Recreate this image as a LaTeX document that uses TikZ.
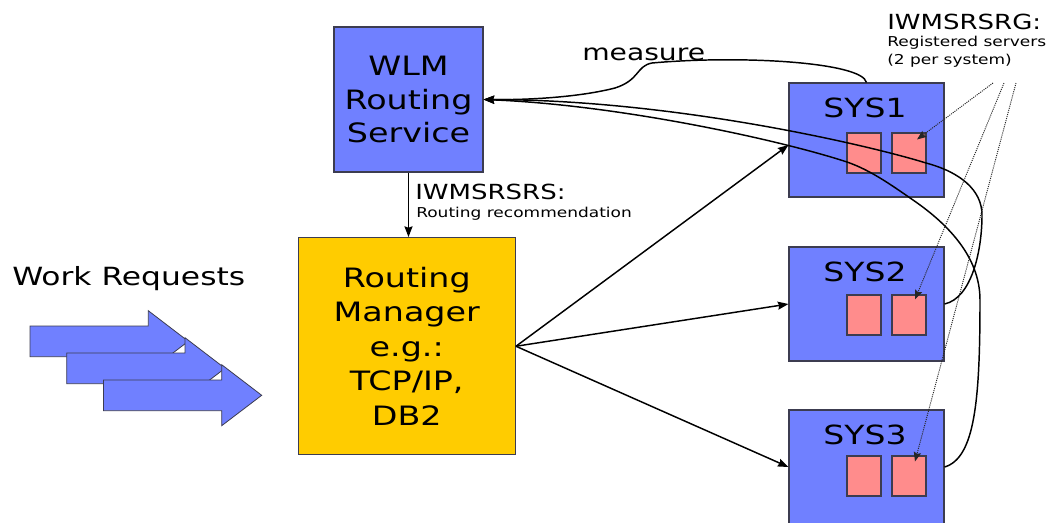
\documentclass[tikz,border=0pt]{standalone}
\usepackage{fontspec}
\setmainfont[FakeStretch=1.25]{DejaVu Sans}
\usetikzlibrary{arrows.meta,calc}
\definecolor{boxblue}{RGB}{112,128,255}
\definecolor{srvpink}{RGB}{255,140,140}
\definecolor{mgryellow}{RGB}{255,204,0}
\definecolor{edgegray}{RGB}{60,60,80}

\begin{document}
\begin{tikzpicture}[x=0.75pt,y=-0.75pt,
  box/.style={draw=edgegray, line width=0.8pt, inner sep=0pt, align=center},
  sysbox/.style={box, fill=boxblue, minimum width=116.25pt, minimum height=85.5pt},
  srv/.style={box, fill=srvpink, minimum width=25.5pt, minimum height=30pt},
  syslab/.style={anchor=base, inner sep=0pt, font=\fontsize{19.8}{22}\selectfont},
  lbl/.style={anchor=base west, inner sep=0pt},
  conn/.style={line width=1.1pt, -{Stealth[length=8pt,width=6pt,inset=1pt]}},
  dotconn/.style={line width=0.7pt, draw=black!85, dash pattern=on 0.8pt off 0.8pt,
    -{Stealth[length=7pt,width=5.5pt,inset=1pt]}},
  blockarrow/.style={fill=boxblue, draw=edgegray, line width=0.6pt}]

\useasboundingbox (0,0) rectangle (1050,522);

% incoming work: three stacked block arrows
\foreach \k in {0,1,2}
  \draw[blockarrow, shift={({36.7*\k},{27*\k})}]
    (30,326) -- (148.3,326) -- (148.3,310.7) -- (188.3,341.3)
    -- (148.3,371.7) -- (148.3,356.7) -- (30,356.7) -- cycle;
\node[lbl, font=\fontsize{18.8}{22}\selectfont] (wr) at (12,285) {Work Requests};

% main components
\node[box, fill=boxblue, minimum width=111.75pt, minimum height=108.75pt,
      font=\fontsize{20}{25}\selectfont] (wlm) at (408.5,99.5) {WLM\\Routing\\Service};
\node[box, fill=mgryellow, minimum width=163pt, minimum height=163pt,
      font=\fontsize{20}{25.8}\selectfont] (rm) at (406.75,346.25)
      {Routing\\Manager\\e.g.:\\TCP/IP,\\DB2};

% target systems with their registered servers
\node[sysbox] (sys1) at (866.5,140) {};
\node[sysbox] (sys2) at (866.5,304) {};
\node[sysbox] (sys3) at (866.5,467) {};
\node[syslab] (sys1lab) at (865,117) {SYS1};
\node[syslab] (sys2lab) at (865,281) {SYS2};
\node[syslab] (sys3lab) at (865,444) {SYS3};
\node[srv] (s1a) at (864,153) {};
\node[srv] (s1b) at (909,153) {};
\node[srv] (s2a) at (864,315) {};
\node[srv] (s2b) at (909,315) {};
\node[srv] (s3a) at (864,476) {};
\node[srv] (s3b) at (909,476) {};

% labels
\node[lbl, font=\fontsize{16.9}{20}\selectfont] (meas) at (582,60.7) {measure};
\node[lbl, font=\fontsize{15.6}{18}\selectfont] (rsrs) at (415,199.3) {IWMSRSRS:};
\node[lbl, font=\fontsize{10.2}{12}\selectfont] (rsrsd) at (416,217) {Routing recommendation};
\node[lbl, font=\fontsize{15.6}{18}\selectfont] (rsrg) at (887,29.3) {IWMSRSRG:};
\node[lbl, font=\fontsize{10.2}{12}\selectfont] (rsrgd) at (887,46.7) {Registered servers};
\node[lbl, font=\fontsize{10.2}{12}\selectfont] (rsrgd2) at (887,64) {(2 per system)};

% routing recommendation and distribution
\draw[conn] (wlm.south) -- (wlm.south |- rm.north);
\draw[conn] (rm.east) -- ([yshift=-3.75pt]sys1.west);
\draw[conn] (rm.east) -- (sys2.west);
\draw[conn] (rm.east) -- (sys3.west);

% measurement feedback to WLM
\draw[conn] (sys1.north) .. controls (862,62) and (740,55) .. (652,63)
  .. controls (636,66) and (640,80) .. (615,88)
  .. controls (580,97) and (530,100) .. (wlm.east);
\draw[conn] (sys2.east) .. controls (972,298) and (982,250) .. (982,215)
  .. controls (982,190) and (960,172) .. (926,163)
  .. controls (875,147) and (680,100) .. (wlm.east);
\draw[conn] (sys3.east) .. controls (975,458) and (980,400) .. (980,300)
  .. controls (980,255) and (945,222) .. (913,200)
  .. controls (890,184) and (870,170) .. (847,162)
  .. controls (780,140) and (620,105) .. (wlm.east);

% registered server pointers
\coordinate (g1) at (993,83);
\coordinate (g2) at (1004,83);
\coordinate (g3) at (1016,83);
\draw[dotconn] (g1) -- ($(s1b.north)+(8,7)$);
\draw[dotconn] (g2) -- ($(s2b.north)+(6,5)$);
\draw[dotconn] (g3) -- ($(s3b.north)+(6,6)$);
\end{tikzpicture}
\end{document}
